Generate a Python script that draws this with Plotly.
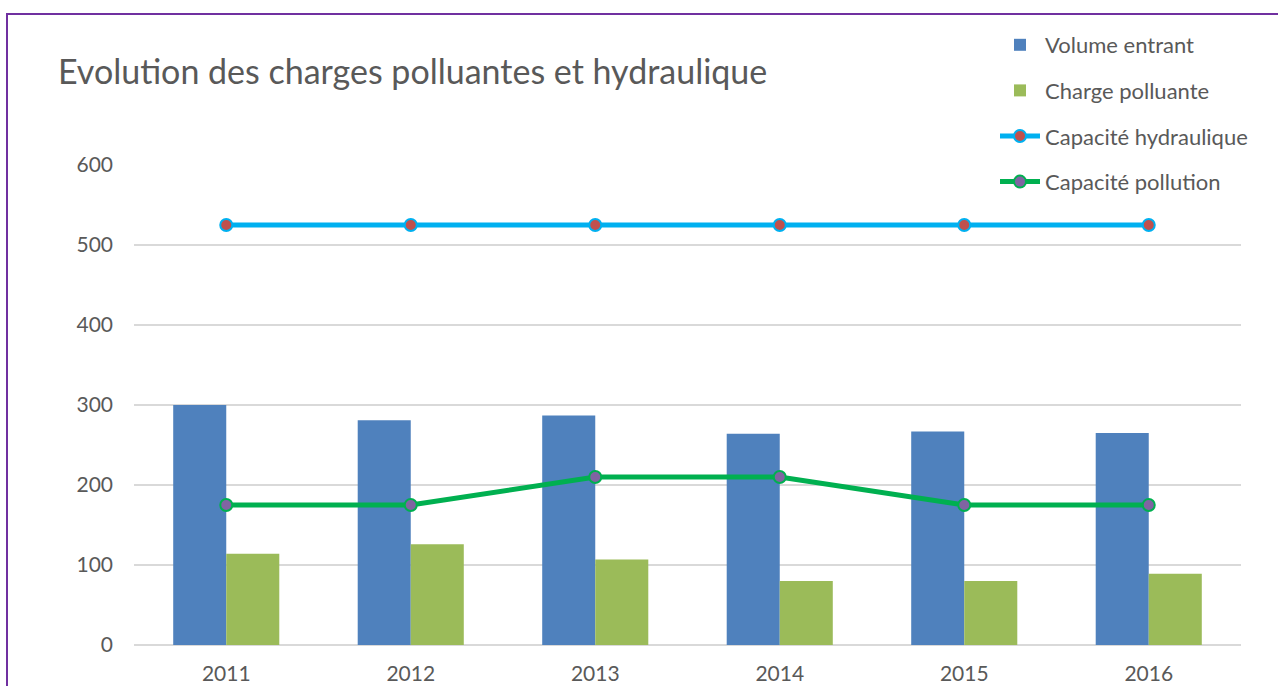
import plotly.graph_objects as go

years = ["2011", "2012", "2013", "2014", "2015", "2016"]
volume_entrant = [300, 281, 287, 264, 267, 265]
charge_polluante = [114, 126, 107, 80, 80, 89]
capacite_hydraulique = [525, 525, 525, 525, 525, 525]
capacite_pollution = [175, 175, 210, 210, 175, 175]

W, H = 1278, 686
ml, mr, mt, mb = 134, 37, 165, 41
pw, ph = W - ml - mr, H - mt - mb

FONT = "Lato"
TXT = "#595959"

fig = go.Figure()
fig.add_trace(go.Bar(x=years, y=volume_entrant, name="Volume entrant",
                     marker=dict(color="#4F81BD", line=dict(width=0)), legendgroup="a"))
fig.add_trace(go.Bar(x=years, y=charge_polluante, name="Charge polluante",
                     marker=dict(color="#9BBB59", line=dict(width=0)), legendgroup="b"))
fig.add_trace(go.Scatter(x=years, y=capacite_hydraulique, name="Capacité hydraulique",
                         mode="lines+markers", line=dict(color="#00B0F0", width=5),
                         marker=dict(color="#C0504D", size=12, line=dict(color="#00B0F0", width=2)),
                         legendgroup="c"))
fig.add_trace(go.Scatter(x=years, y=capacite_pollution, name="Capacité pollution",
                         mode="lines+markers", line=dict(color="#00B050", width=5),
                         marker=dict(color="#8064A2", size=12, line=dict(color="#00B050", width=2)),
                         legendgroup="d"))

# purple outer border (partially cropped at right/bottom)
fig.add_shape(type="rect", xref="paper", yref="paper",
              x0=(7 - ml) / pw, x1=(W + 20 - ml) / pw,
              y0=-(60) / ph, y1=(H - mb - 14) / ph,
              line=dict(color="#7030A0", width=2), fillcolor="rgba(0,0,0,0)", layer="below")

fig.update_layout(
    width=W, height=H,
    margin=dict(l=ml, r=mr, t=mt, b=mb, autoexpand=False),
    paper_bgcolor="white", plot_bgcolor="white",
    barmode="group", bargap=0.425, bargroupgap=0,
    font=dict(family=FONT, color=TXT),
    title=dict(text="Evolution des charges polluantes et hydraulique",
               font=dict(family=FONT, size=34, color=TXT),
               x=58 / W, xanchor="left", xref="container",
               y=1 - 72 / H, yanchor="middle", yref="container"),
    xaxis=dict(showgrid=False, showline=False, ticks="", tickfont=dict(size=21, color=TXT),
               ticklabelstandoff=14, automargin=False),
    yaxis=dict(range=[0, 600], dtick=100, showgrid=True, gridcolor="#D9D9D9", gridwidth=2,
               zeroline=True, zerolinecolor="#D9D9D9", zerolinewidth=2, showline=False,
               ticks="", tickfont=dict(size=21, color=TXT), ticklabelstandoff=20,
               automargin=False),
    legend=dict(x=(995 - ml) / pw, xanchor="left", y=(H - mb - 24) / ph, yanchor="top",
                font=dict(size=22, color=TXT), tracegroupgap=14, itemwidth=40,
                bgcolor="rgba(0,0,0,0)"),
)

fig.write_html("out.html", post_script="document.body.style.margin='0';",
               config={"displayModeBar": False})
